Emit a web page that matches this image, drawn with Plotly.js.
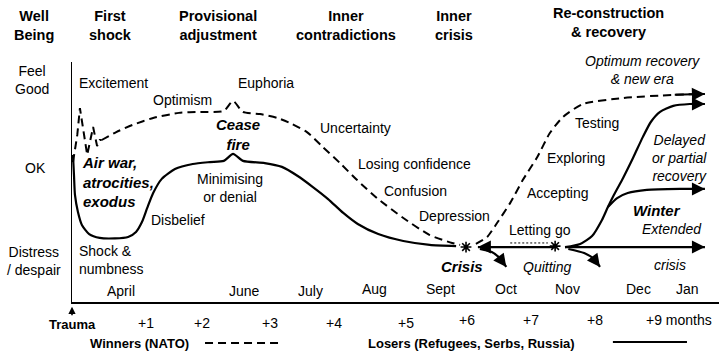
<!DOCTYPE html>
<html>
<head>
<meta charset="utf-8">
<script src="https://cdn.plot.ly/plotly-3.0.1.min.js"></script>
<style>html,body{margin:0;padding:0;background:#fff}#chart{width:719px;height:357px}</style>
</head>
<body>
<div id="chart"></div>
<script>
// x: months since trauma, y: well-being index (0 = axis, 100 = top of scale)
const losersX = [0.015,0.03,0.045,0.09,0.15,0.26,0.42,0.65,0.85,0.97,1.06,1.14,1.23,1.36,1.56,1.83,2.09,2.30,2.44,2.59,2.92,3.18,3.42,3.65,3.88,4.11,4.33,4.64,5.02,5.42,5.82];
const losersY = [61.3,52.9,44.6,37.5,32.1,28.3,26.7,26.5,27.1,29.2,33.3,39.2,45.4,51.3,55.4,57.5,58.3,58.8,61.7,58.8,57.9,56.3,52.5,47.9,42.9,37.1,32.5,28.3,25.4,23.8,23.3];

const winnersZigX = [0.015,0.08,0.12,0.18,0.23,0.32,0.38,0.42,0.45];
const winnersZigY = [58.3,69.6,80.8,70.8,61.3,72.9,65.0,67.5,67.5];
const winnersX = [0.45,0.67,0.92,1.23,1.62,1.94,2.30,2.44,2.59,2.85,3.11,3.30,3.56,3.80,4.06,4.32,4.62,5.02,5.42,5.76,5.88];
const winnersY = [67.5,70.8,73.8,76.7,78.8,79.2,79.6,83.8,79.2,78.3,76.7,74.6,70.8,64.6,57.9,50.8,43.3,35.0,27.9,24.6,23.8];

const optimumX = [6.12,6.29,6.44,6.64,6.83,7.05,7.24,7.44,7.74,8.35,9.11,9.59];
const optimumY = [24.2,27.1,32.9,41.3,50.8,60.4,70.4,77.1,82.5,85.0,86.3,86.7];

const delayedX = [7.47,7.70,7.88,8.03,8.12,8.21,8.35,8.50,8.65,8.77,8.91,9.11,9.36,9.59];
const delayedY = [22.9,24.2,27.5,34.2,39.6,44.6,51.7,60.0,68.8,75.0,79.2,81.7,82.5,82.5];

const winterX = [8.12,8.26,8.42,8.71,9.21,9.59];
const winterY = [39.6,43.3,45.4,46.7,47.1,47.1];

const extendedX = [7.47,9.59];
const extendedY = [22.9,22.9];

const lettingGoX = [7.29,6.15];
const lettingGoY = [22.9,22.9];

const quit1X = [6.18,6.36,6.48,6.58];
const quit1Y = [22.1,20.8,18.3,14.6];
const quit2X = [7.52,7.76,7.91,8.00];
const quit2Y = [22.1,20.4,17.9,14.6];

const crisisX = [5.97,7.32];
const crisisY = [22.9,23.3];

const monthNames = ['April','June','July','Aug','Sept','Oct','Nov','Dec','Jan'];
const monthPos   = [0.74,2.61,3.61,4.58,5.59,6.58,7.50,8.58,9.33];
const offsetLabels = ['<b>Trauma</b>','+1','+2','+3','+4','+5','+6','+7','+8','+9 months'];
const offsetPos    = [0.015,1.12,1.97,3.0,3.97,5.06,5.98,6.95,7.92,9.2];

const XMAX = 9.803;
const FONT = 'Liberation Sans, Arial, sans-serif';
const solid = {color:'#000', width:2.2};
const dashed = {color:'#000', width:2, dash:'8px,5px'};

function tr(x, y, line, shape) {
  return {x:x, y:y, type:'scatter', mode:'lines', line:Object.assign({shape:shape||'spline', smoothing:0.6}, line), hoverinfo:'skip', showlegend:false};
}

const data = [
  tr(losersX, losersY, solid),
  tr(winnersZigX, winnersZigY, dashed, 'linear'),
  tr(winnersX, winnersY, dashed),
  tr(optimumX, optimumY, dashed),
  tr(delayedX, delayedY, solid),
  tr(winterX, winterY, solid),
  tr(extendedX, extendedY, solid, 'linear'),
  tr(lettingGoX, lettingGoY, solid, 'linear'),
  tr(quit1X, quit1Y, solid),
  tr(quit2X, quit2Y, solid),
  {x:[6.64,7.21], y:[24.6,24.6], type:'scatter', mode:'lines', line:{color:'#000', width:1, dash:'2px,2px'}, hoverinfo:'skip', showlegend:false},
  {x:crisisX, y:crisisY, type:'scatter', mode:'markers', marker:{symbol:'asterisk-open', size:9, color:'#000', line:{width:1.6, color:'#000'}}, hoverinfo:'skip', showlegend:false}
];

const ann = [];
// labels outside the axis range are placed in paper units of the same scale
function lab(text, x, y, o) {
  const out = x < 0 || x > XMAX || y < 0 || y > 100;
  ann.push(Object.assign({text:text,
    x: out ? x / XMAX : x, y: out ? y / 100 : y,
    xref: out ? 'paper' : 'x', yref: out ? 'paper' : 'y', showarrow:false,
    xanchor:'center', yanchor:'middle', font:{family:FONT, size:14, color:'#000'}}, o || {}));
}
function arrowEnd(xs, ys) {
  const n = xs.length;
  ann.push({text:'', x:xs[n-1], y:ys[n-1], ax:xs[n-2], ay:ys[n-2], xref:'x', yref:'y', axref:'x', ayref:'y',
    showarrow:true, arrowhead:2, arrowsize:1.3, arrowwidth:2, arrowcolor:'#000', standoff:0, startstandoff:0});
}
[[optimumX, optimumY],[delayedX, delayedY],[winterX, winterY],[extendedX, extendedY],
 [lettingGoX, lettingGoY],[quit1X, quit1Y],[quit2X, quit2Y]].forEach(p => arrowEnd(p[0], p[1]));
// trauma arrow (below the time axis)
ann.push({text:'', x:0, y:-0.02, xref:'paper', yref:'paper', ax:0, ay:10, axref:'pixel', ayref:'pixel',
  showarrow:true, arrowhead:2, arrowsize:0.9, arrowwidth:1.6, arrowcolor:'#000', standoff:0});

const HF = {family:FONT, size:14.5, color:'#000'};
const BI = {family:FONT, size:15, color:'#000'};
const bold = (s) => '<b>' + s + '</b>';
// headers
lab(bold('Well<br>Being'), -0.576, 115.4, {font:HF});
lab(bold('First<br>shock'), 0.576, 115.4, {font:HF});
lab(bold('Provisional<br>adjustment'), 2.21, 115.4, {font:HF});
lab(bold('Inner<br>contradictions'), 4.15, 115.4, {font:HF});
lab(bold('Inner<br>crisis'), 5.79, 115.4, {font:HF});
lab(bold('Re-construction<br>&amp; recovery'), 8.13, 116.6, {font:HF});
// left scale
lab('Feel<br>Good', -0.606, 92.5);
lab('OK', -0.56, 55.8);
lab('Distress<br>/ despair', -0.57, 16.9);
// stage words
lab('Excitement', 0.07, 91.3, {xanchor:'left'});
lab('Euphoria', 2.94, 91.3);
lab('Optimism', 1.67, 84.2);
lab('<b><i>Cease<br>fire</i></b>', 2.52, 69.6, {font:BI});
lab('Uncertainty', 3.72, 72.5, {xanchor:'left'});
lab('Losing confidence', 4.31, 57.5, {xanchor:'left'});
lab('Confusion', 4.69, 46.3, {xanchor:'left'});
lab('Depression', 5.22, 35.8, {xanchor:'left'});
lab('<b><i>Air war,<br>atrocities,<br>exodus</i></b>', 0.125, 49.8, {xanchor:'left', align:'left', font:BI});
lab('Minimising<br>or denial', 2.39, 47.7);
lab('Disbelief', 1.17, 34.2, {xanchor:'left'});
lab('Shock &amp;<br>numbness', 0.08, 17.5, {xanchor:'left', align:'left'});
lab('<b><i>Crisis</i></b>', 5.91, 14.6, {font:BI});
lab('<i>Quitting</i>', 7.20, 14.6);
lab('Letting go', 7.09, 30.0);
lab('Accepting', 7.36, 45.4);
lab('Exploring', 7.64, 60.0);
lab('Testing', 7.95, 74.6);
lab('<i>Optimum recovery<br>&amp; new era</i>', 8.64, 96.6);
lab('<i>Delayed<br>or partial<br>recovery</i>', 9.2, 60.2);
lab('<b><i>Winter</i></b>', 8.86, 38.3, {font:BI});
lab('<i>Extended</i>', 9.09, 30.4);
lab('<i>crisis</i>', 9.06, 15.4);
// months
monthNames.forEach((m, i) => lab(m, monthPos[i], i < 3 ? 4.4 : 5.4));
// offsets from trauma
offsetLabels.forEach((t, i) => lab(t, offsetPos[i], i === 0 ? -9.2 : (i >= 6 ? -7.5 : -8.75), i === 0 ? {font:{family:FONT,size:13,color:'#000'}} : {}));
// legend texts
lab(bold('Winners (NATO)'), 1.03, -17.1, {font:{family:FONT,size:13,color:'#000'}});
lab(bold('Losers (Refugees, Serbs, Russia)'), 6.06, -17.1, {font:{family:FONT,size:13,color:'#000'}});

const layout = {
  width:719, height:357,
  margin:{l:72, r:0, t:62, b:55, pad:0},
  paper_bgcolor:'#fff', plot_bgcolor:'#fff',
  showlegend:false,
  xaxis:{range:[0,XMAX], showline:true, linecolor:'#000', linewidth:1.5, showgrid:false, zeroline:false, showticklabels:false, ticks:'', fixedrange:true},
  yaxis:{range:[0,100], showline:true, linecolor:'#000', linewidth:1.5, showgrid:false, zeroline:false, showticklabels:false, ticks:'', fixedrange:true},
  annotations:ann,
  shapes:[
    {type:'line', xref:'paper', yref:'paper', x0:0.2056, x1:0.3215, y0:-0.1708, y1:-0.1708, line:{color:'#000', width:2, dash:'8px,5px'}},
    {type:'line', xref:'paper', yref:'paper', x0:0.836, x1:0.9505, y0:-0.1667, y1:-0.1667, line:{color:'#000', width:2}}
  ],
  font:{family:FONT, color:'#000'}
};

Plotly.newPlot('chart', data, layout, {staticPlot:true, displayModeBar:false});
</script>
</body>
</html>
